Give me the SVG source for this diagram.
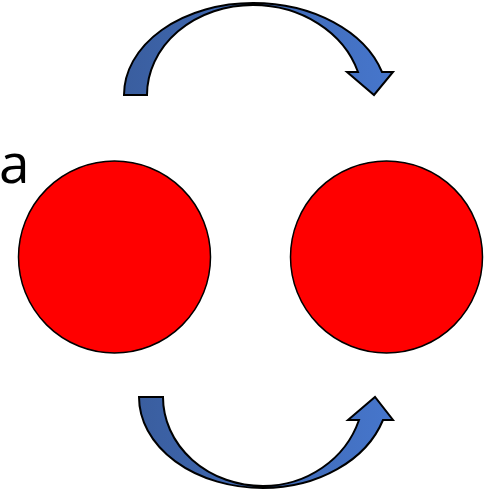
<svg xmlns="http://www.w3.org/2000/svg" width="491" height="493" viewBox="0 0 491 493">
<defs>
<linearGradient id="g" x1="0" y1="0" x2="1" y2="0">
<stop offset="0" stop-color="#3A5E9F"/>
<stop offset="1" stop-color="#4676CC"/>
</linearGradient>
<style>
.arrow{fill:url(#g);stroke:#000;stroke-width:2;stroke-linejoin:miter}
.ball{fill:#FF0000;stroke:#000;stroke-width:1.5}
.lbl{font-family:"Open Sans","Liberation Sans",sans-serif;font-size:55px;fill:#000}
</style>
</defs>
<rect width="491" height="493" fill="#fff"/>
<g id="label-a"><text class="lbl" x="-1" y="183">a</text></g>
<g id="node-left"><circle class="ball" cx="114.5" cy="257" r="96"/></g>
<g id="node-right"><circle class="ball" cx="386.5" cy="257" r="96"/></g>
<g id="connectors">
<path id="arrow-top" class="arrow" d="M124,95 A129,92 0 0 1 253,3 A134.7,97 0 0 1 382,72 L393,72 L374,95 L347,72 L358,72 A109.9,95 0 0 0 253,5 A106,90 0 0 0 147,95 Z"/>
<path id="arrow-bottom" class="arrow" d="M139,397 A124,91 0 0 0 263,488 A126,98 0 0 0 383,420 L393,420 L375,397 L348,420 L359,420 A101,96 0 0 1 263,486 A100,89 0 0 1 163,397 Z"/>
</g>
</svg>
